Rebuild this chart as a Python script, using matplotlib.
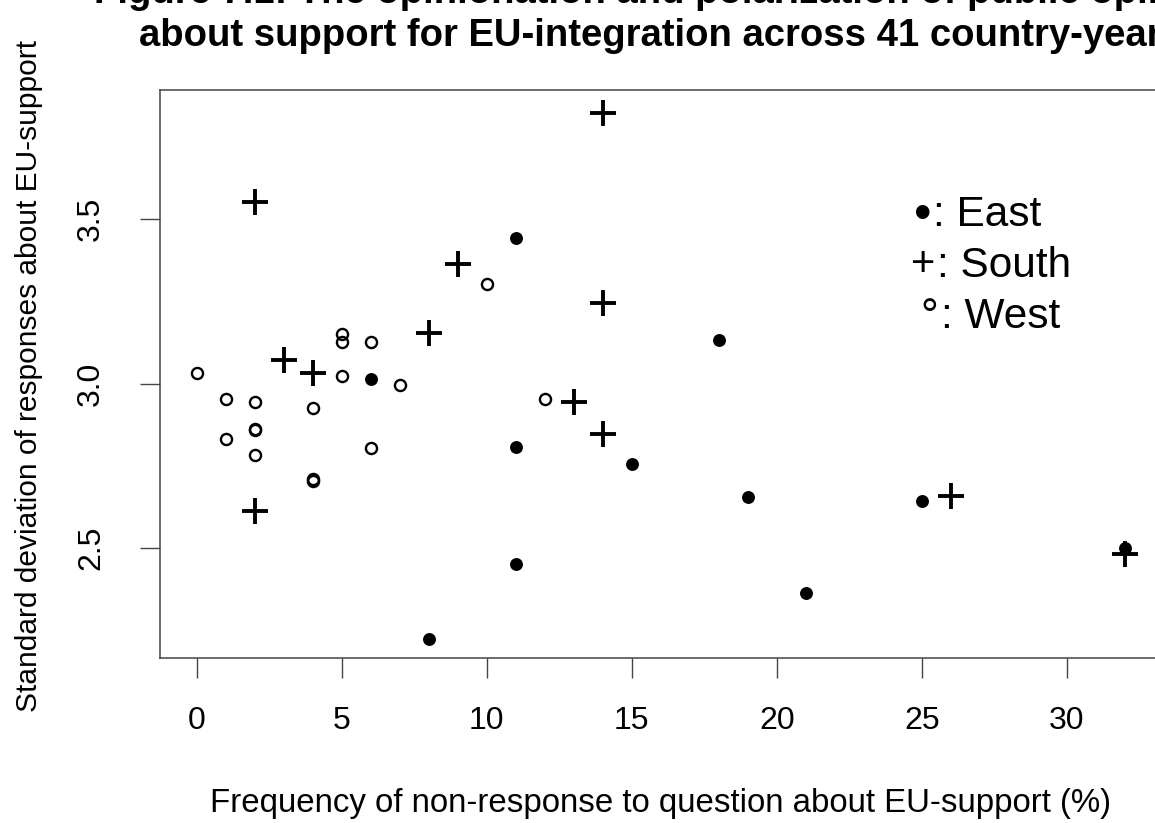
import matplotlib
matplotlib.use("Agg")
import matplotlib.pyplot as plt

plt.rcParams['font.family'] = ['Liberation Sans', 'DejaVu Sans']

# ---- data ----
east_x = [11, 6, 18, 11, 15, 19, 25, 11, 21, 8, 32]
east_y = [3.443, 3.013, 3.134, 2.806, 2.755, 2.655, 2.643, 2.450, 2.363, 2.222, 2.500]

south_x = [14, 2, 9, 14, 8, 3, 4, 13, 14, 26, 2, 32]
south_y = [3.825, 3.553, 3.365, 3.245, 3.153, 3.073, 3.032, 2.945, 2.845, 2.658, 2.611, 2.480]

west_x = [10, 5, 5, 6, 0, 5, 7, 1, 2, 4, 12, 1, 2, 2, 2, 6, 4, 4]
west_y = [3.304, 3.152, 3.127, 3.125, 3.033, 3.024, 2.994, 2.952, 2.945, 2.924,
          2.952, 2.832, 2.862, 2.857, 2.781, 2.803, 2.709, 2.704]

x_ticks = [0, 5, 10, 15, 20, 25, 30]
y_ticks = [2.5, 3.0, 3.5]
y_tick_labels = ['2.5', '3.0', '3.5']

legend_symbols = ['\u2022', '+', '\u00b0']
legend_names = [': East', ': South', ': West']

title_line1 = 'Figure 7.1: The opinionation and polarization of public opinion'
title_line2 = 'about support for EU-integration across 41 country-years'
x_label = 'Frequency of non-response to question about EU-support (%)'
y_label = 'Standard deviation of responses about EU-support'

# ---- figure ----
W, H = 1155, 823
fig = plt.figure(figsize=(W / 100, H / 100), dpi=100)
left_px, right_px, top_px, bottom_px = 159.6, 1162.0, 90.0, 658.3
ax = fig.add_axes([left_px / W, 1 - bottom_px / H,
                   (right_px - left_px) / W, (bottom_px - top_px) / H])

ax.plot(east_x, east_y, linestyle='none', marker='o', markersize=9.3,
        color='black', markeredgewidth=0)
ax.plot(south_x, south_y, linestyle='none', marker='+', markersize=19,
        markeredgewidth=2.8, color='black')
ax.plot(west_x, west_y, linestyle='none', marker='o', markersize=8.0,
        markerfacecolor='none', markeredgecolor='black', markeredgewidth=1.7)

ax.set_xlim(-1.28, 33.28)
ax.set_ylim(2.163, 3.894)

for s in ax.spines.values():
    s.set_linewidth(1.1)
    s.set_color('#444444')

ax.set_xticks(x_ticks)
ax.set_xticklabels([str(t) for t in x_ticks])
ax.set_yticks(y_ticks)
ax.set_yticklabels(y_tick_labels, rotation=90, va='center')
ax.tick_params(axis='both', direction='out', length=14.4, width=1.0,
               color='#444444', labelsize=23, labelcolor='black')
ax.tick_params(axis='x', pad=20)
ax.tick_params(axis='y', pad=24)

# legend-like text lines: symbol + name
sym_pos = [(923, 229, 36), (923, 276, 30), (929, 330, 32)]
name_x = [933, 937, 941]
name_base = [226, 277, 328]
for sym, (sx, sy, fs), name, nx, nb in zip(legend_symbols, sym_pos, legend_names,
                                           name_x, name_base):
    fig.text(sx / W, 1 - sy / H, sym, fontsize=fs, ha='center', va='baseline')
    fig.text(nx / W, 1 - nb / H, name, fontsize=30.5, ha='left', va='baseline')

# titles and axis labels
cx = (left_px + right_px) / 2 / W
fig.text(cx, 1 - 3 / H, title_line1, fontsize=27.5, fontweight='bold',
         ha='center', va='baseline')
fig.text(cx, 1 - 46 / H, title_line2, fontsize=27.5, fontweight='bold',
         ha='center', va='baseline')
fig.text(cx, 1 - 811.7 / H, x_label, fontsize=23.8, ha='center', va='baseline')
fig.text(29 / W, 1 - 376 / H, y_label, fontsize=21.5,
         rotation=90, ha='center', va='center')

fig.savefig('out.png', dpi=100)
